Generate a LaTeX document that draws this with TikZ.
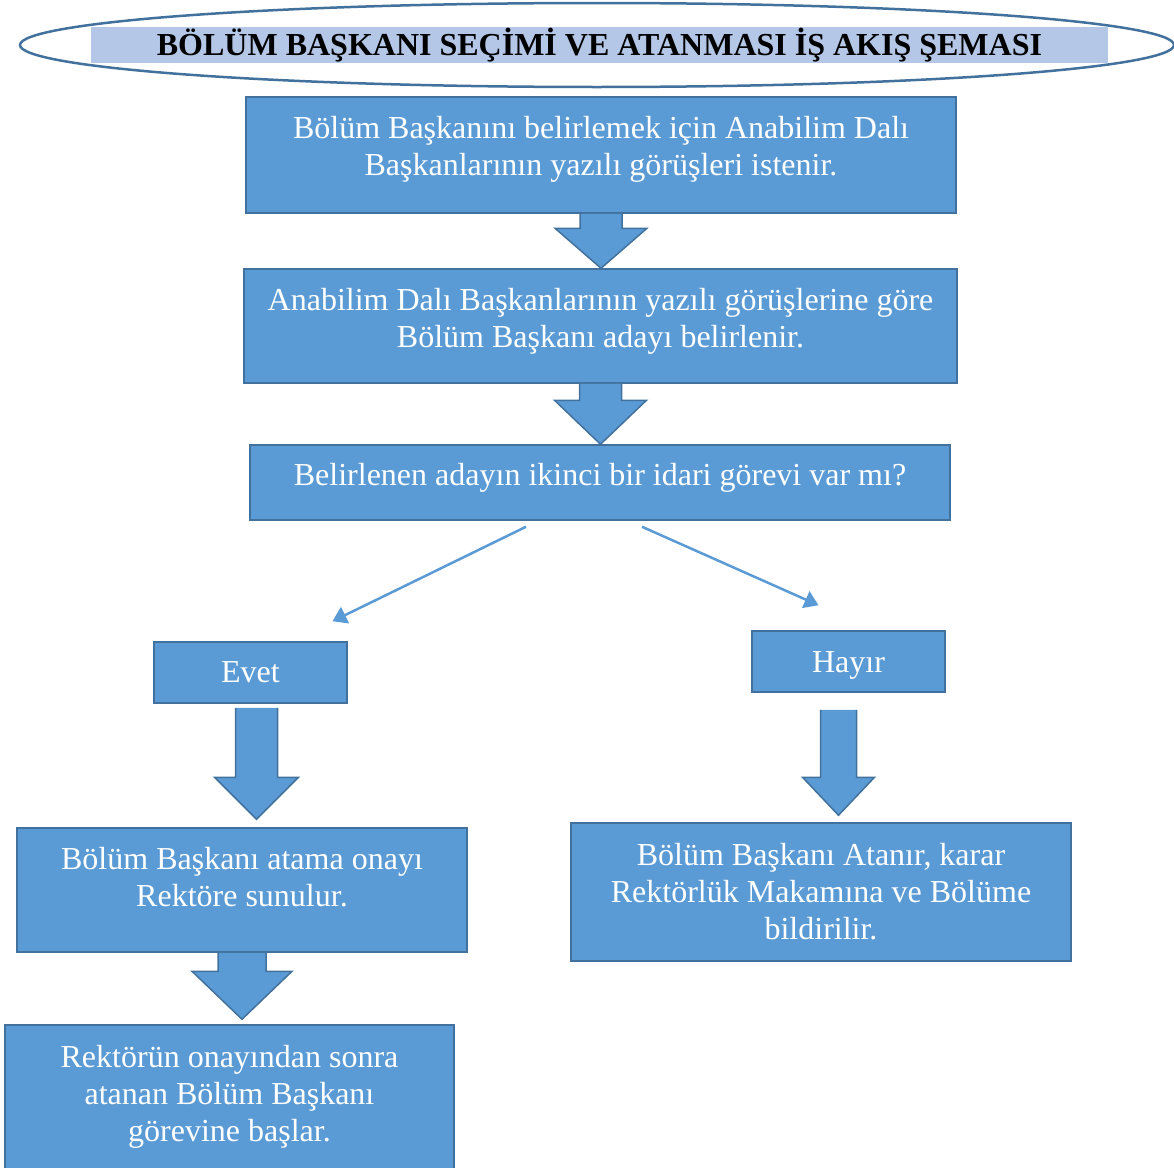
\documentclass[tikz,border=0pt]{standalone}
\usepackage{fontspec}
\setmainfont{Liberation Serif}
\usetikzlibrary{arrows.meta, calc, shapes.geometric}

\definecolor{boxfill}{HTML}{5B9BD5}
\definecolor{boxline}{HTML}{41719C}
\definecolor{titlefill}{HTML}{B4C7E7}
\definecolor{titleline}{HTML}{41719C}

% wide block arrow: top point, target point, shaft half width, head half width, head length
\newcommand{\flowarrow}[5]{%
  \fill[boxfill] let \p1 = (#1), \p2 = (#2) in
    (\x1-#3,\y1) -- (\x1-#3,\y2+#5) -- (\x1-#4,\y2+#5) -- (\x1,\y2)
    -- (\x1+#4,\y2+#5) -- (\x1+#3,\y2+#5) -- (\x1+#3,\y1) -- cycle;
  \draw[boxline, line width=1.5pt] let \p1 = (#1), \p2 = (#2) in
    (\x1-#3,\y1) -- (\x1-#3,\y2+#5) -- (\x1-#4,\y2+#5) -- (\x1,\y2)
    -- (\x1+#4,\y2+#5) -- (\x1+#3,\y2+#5) -- (\x1+#3,\y1);
}

\begin{document}
\begin{tikzpicture}[x=1pt, y=-1pt,
    stepbox/.style = {draw=boxline, fill=boxfill, line width=1.5pt, text=white,
        align=center, inner sep=0pt, font=\fontsize{32}{37}\selectfont},
    thinarrow/.style = {draw=boxfill, line width=2.5pt,
        -{Triangle[length=14pt, width=18pt]}}]
    \useasboundingbox (0, 0) rectangle (1174, 1167);

    % title
    \node [ellipse, draw=titleline, line width=2.5pt, inner sep=0pt,
        minimum width=1154pt, minimum height=84pt] (frame) at (597, 45) {};
    \node [fill=titlefill, inner sep=0pt, minimum width=1017pt, minimum height=36pt,
        font=\bfseries\fontsize{32}{37}\selectfont] (title) at (599.5, 45)
        {BÖLÜM BAŞKANI SEÇİMİ VE ATANMASI İŞ AKIŞ ŞEMASI};

    % steps
    \node [stepbox, minimum width=710pt, minimum height=116pt, text depth=19pt] (ask) at (601, 155)
        {Bölüm Başkanını belirlemek için Anabilim Dalı\\Başkanlarının yazılı görüşleri istenir.};
    \node [stepbox, minimum width=713pt, minimum height=114pt, text depth=17pt] (cand) at (600.5, 326)
        {Anabilim Dalı Başkanlarının yazılı görüşlerine göre\\Bölüm Başkanı adayı belirlenir.};
    \node [stepbox, minimum width=700pt, minimum height=75pt, text depth=17pt] (check) at (600, 482.5)
        {Belirlenen adayın ikinci bir idari görevi var mı?};
    \node [stepbox, minimum width=193pt, minimum height=61pt] (evet) at (250.5, 672.5) {Evet};
    \node [stepbox, minimum width=193pt, minimum height=61pt, text height=29pt] (hayir) at (848.5, 661.5) {Hayır};
    \node [stepbox, minimum width=450pt, minimum height=124pt, text depth=26pt] (onay) at (242, 890)
        {Bölüm Başkanı atama onayı\\Rektöre sunulur.};
    \node [stepbox, minimum width=449pt, minimum height=150pt, text depth=13pt] (basla) at (229.5, 1100)
        {Rektörün onayından sonra\\atanan Bölüm Başkanı\\görevine başlar.};
    \node [stepbox, minimum width=500pt, minimum height=138pt] (atanir) at (821, 892)
        {Bölüm Başkanı Atanır, karar\\Rektörlük Makamına ve Bölüme\\bildirilir.};

    % block arrows
    \flowarrow{ask.south}{cand.north}{21pt}{46pt}{40pt}
    \flowarrow{cand.south}{check.north}{21pt}{46pt}{44pt}
    \flowarrow{[xshift=6pt, yshift=-4pt]evet.south}{[yshift=8pt]onay.north}{21pt}{42pt}{42pt}
    \flowarrow{onay.south}{[yshift=5pt]basla.north}{24pt}{50pt}{48pt}
    \flowarrow{[xshift=-10pt, yshift=-17pt]hayir.south}{[yshift=7pt]atanir.north}{18pt}{36pt}{38pt}

    % decision
    \draw [thinarrow] ([xshift=-74pt, yshift=-6pt]check.south) -- ([xshift=82pt, yshift=20pt]evet.north);
    \draw [thinarrow] ([xshift=42pt, yshift=-6pt]check.south) -- ([xshift=-30pt, yshift=25pt]hayir.north);
\end{tikzpicture}
\end{document}
